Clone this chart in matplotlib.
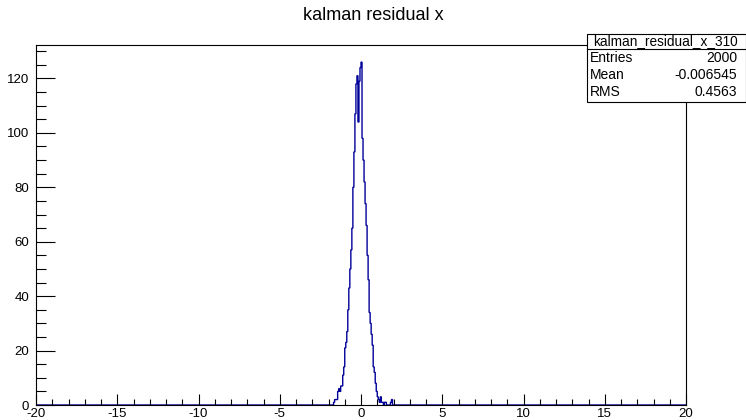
import numpy as np
import matplotlib
matplotlib.use("Agg")
import matplotlib.pyplot as plt
from matplotlib.patches import Rectangle
from matplotlib.lines import Line2D
from matplotlib.ticker import MultipleLocator

plt.rcParams['font.family'] = ['Liberation Sans', 'DejaVu Sans']
plt.rcParams['axes.unicode_minus'] = False

# histogram binning: 640 bins over [-20, 20]
n_bins = 640
x_lo, x_hi = -20.0, 20.0

# counts of the occupied bins, starting at x = -1.75
first_edge = -1.75
counts_nonzero = [
    0, 1, 2, 2, 2, 5, 6, 5, 7, 7, 11, 14, 21, 23, 27, 35, 43, 50, 57, 65,
    80, 93, 107, 118, 121, 104, 119, 124, 126, 98, 90, 82, 74, 66, 55, 46,
    34, 30, 26, 22, 14, 12, 8, 5, 3, 2, 1, 3, 1, 1, 0, 1, 1, 0, 0, 0, 0, 1, 2, 0,
]

title = "kalman residual x"
stats_name = "kalman_residual_x_310"
stats_rows = [("Entries", "2000"), ("Mean", "-0.006545"), ("RMS", "0.4563")]

edges = np.linspace(x_lo, x_hi, n_bins + 1)
counts = np.zeros(n_bins)
i0 = int(round((first_edge - x_lo) / (edges[1] - edges[0])))
counts[i0:i0 + len(counts_nonzero)] = counts_nonzero

W, H = 746, 420
fig = plt.figure(figsize=(W / 100, H / 100), dpi=100)
ax = fig.add_axes([36 / W, 1 - 405 / H, 650 / W, 360 / H])

ax.stairs(counts, edges, color='#000099', linewidth=1.0)
ax.set_xlim(x_lo, x_hi)
ax.set_ylim(0, 1.05 * max(counts))

# ROOT style ticks: inside, on bottom/left only
ax.xaxis.set_major_locator(MultipleLocator(5))
ax.xaxis.set_minor_locator(MultipleLocator(1))
ax.yaxis.set_major_locator(MultipleLocator(20))
ax.yaxis.set_minor_locator(MultipleLocator(5))
ax.tick_params(axis='x', which='major', direction='in', length=8, width=0.8,
               labelsize=9.5, pad=2.5)
ax.tick_params(axis='x', which='minor', direction='in', length=4, width=0.8)
ax.tick_params(axis='y', which='major', direction='in', length=14, width=0.8,
               labelsize=9.5, pad=5)
ax.tick_params(axis='y', which='minor', direction='in', length=7, width=0.8)
for s in ax.spines.values():
    s.set_linewidth(0.8)

fig.text(373.5 / W, 1 - 15 / H, title, ha='center', va='center', fontsize=13)

# stats box
bx0, bx1 = 587 / W, 745.5 / W
by_top, by_sep, by_bot = 1 - 34 / H, 1 - 48.5 / H, 1 - 102 / H
fig.patches.append(Rectangle((bx0, by_bot), bx1 - bx0, by_top - by_bot,
                             transform=fig.transFigure, facecolor='white',
                             edgecolor='black', linewidth=0.8, zorder=5))
fig.lines.append(Line2D([bx0, bx1], [by_sep, by_sep], transform=fig.transFigure,
                        color='black', linewidth=0.8, zorder=6))
fig.text((bx0 + bx1) / 2 - 0.5 / W, (by_top + by_sep) / 2, stats_name,
         ha='center', va='center', fontsize=9.8, zorder=7)
for k, (name, val) in enumerate(stats_rows):
    y = 1 - (58.5 + 16.8 * k) / H
    fig.text(590 / W, y, name, ha='left', va='center', fontsize=10, zorder=7)
    fig.text(737 / W, y, val, ha='right', va='center', fontsize=10, zorder=7)

fig.savefig("out.png", dpi=100)
